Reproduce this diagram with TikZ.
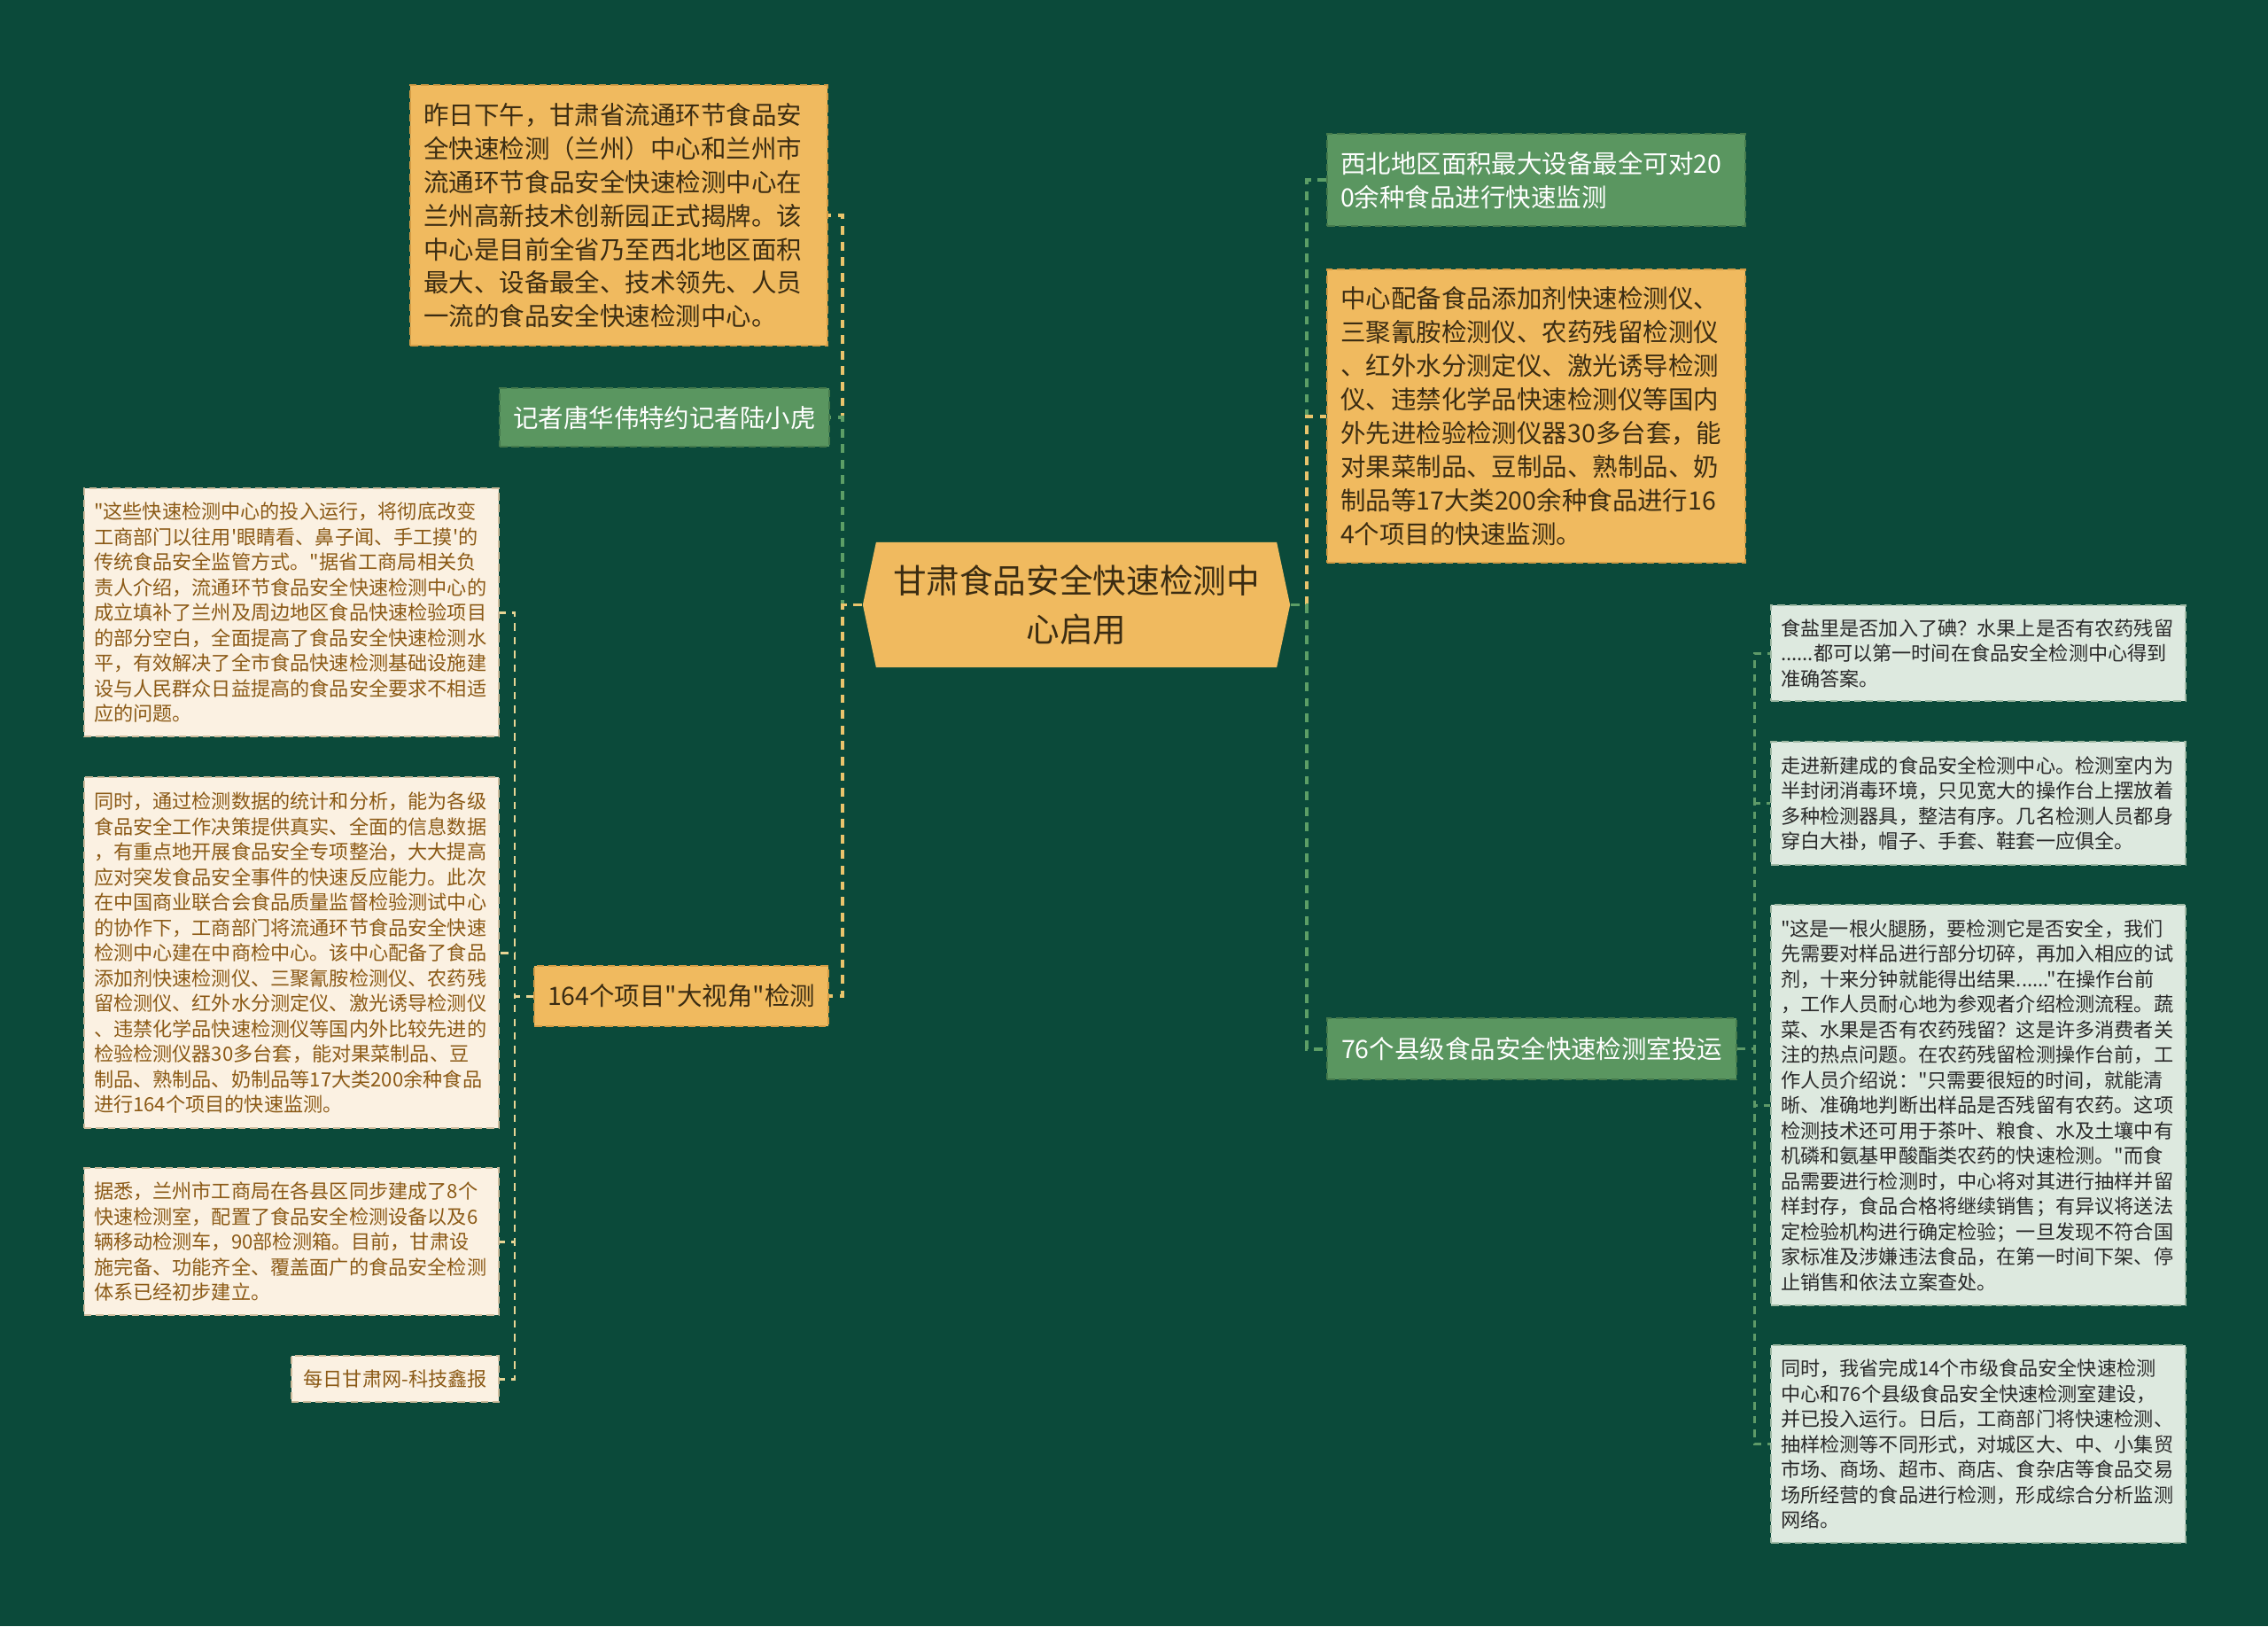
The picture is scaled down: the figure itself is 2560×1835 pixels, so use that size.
\documentclass[tikz,border=0pt]{standalone}
\usepackage{fontspec}
\newfontfamily\cjk{Noto Sans CJK SC}
\usepackage{xcolor}
\usepackage{tikz}
\usetikzlibrary{positioning, shapes.symbols}

\definecolor{bgdark}{HTML}{0B4A3A}
\definecolor{orangefill}{HTML}{F0BA5F}
\definecolor{orangeedge}{HTML}{D49C45}
\definecolor{orangeline}{HTML}{E9C46C}
\definecolor{greenfill}{HTML}{5A9660}
\definecolor{greenedge}{HTML}{457A4C}
\definecolor{greenline}{HTML}{5C9E66}
\definecolor{creamfill}{HTML}{FBF1E2}
\definecolor{creamedge}{HTML}{CDBB9C}
\definecolor{creamtext}{HTML}{8B5A16}
\definecolor{creamline}{HTML}{E8D595}
\definecolor{mintfill}{HTML}{DDE9DF}
\definecolor{mintedge}{HTML}{9FB9A4}
\definecolor{minttext}{HTML}{2A2A2A}
\definecolor{mintline}{HTML}{5E9A68}
\definecolor{darktext}{HTML}{3B2C12}

\begin{document}
\begin{tikzpicture}[
        x=0.01cm, y=-0.01cm,
        every node/.style={inner ysep=0pt},
        box/.style={rectangle, anchor=north west, line width=0.6pt, dash pattern=on 2.4pt off 1.4pt},
        midfont/.style={font=\cjk\fontsize{8.1pt}{10.8pt}\selectfont, inner xsep=0.15cm},
        smallfont/.style={font=\cjk\fontsize{6.3pt}{8.1pt}\selectfont, inner xsep=0.11cm},
        orangebox/.style={box, midfont, fill=orangefill, draw=orangeedge, text=darktext},
        greenbox/.style={box, midfont, fill=greenfill, draw=greenedge, text=white},
        creambox/.style={box, smallfont, fill=creamfill, draw=creamedge, text=creamtext},
        mintbox/.style={box, smallfont, fill=mintfill, draw=mintedge, text=minttext},
        longtext/.style={align=left, text width=#1},
        centrebox/.style={signal, signal to=west and east, signal pointer angle=156, fill=orangefill,
            text=darktext, font=\cjk\fontsize{10.7pt}{15.6pt}\selectfont, align=center,
            minimum width=4.82cm, minimum height=1.41cm},
        conn/.style={line width=1.1pt, dash pattern=on 2.8pt off 2.2pt},
        subconn/.style={line width=0.8pt, dash pattern=on 2.4pt off 2pt}
    ]
        \useasboundingbox (0,0) rectangle (2560,1835);
        \fill[bgdark] (0,0) rectangle (2560,1835);

        \node[centrebox] (centre) at (1215,682.5) {甘肃食品安全快速检测中\\心启用};

        % left branch
        \node[orangebox, longtext=4.41cm, minimum height=2.94cm] (opening) at (462,95) {昨日下午，甘肃省流通环节食品安\\
全快速检测（兰州）中心和兰州市\\
流通环节食品安全快速检测中心在\\
兰州高新技术创新园正式揭牌。该\\
中心是目前全省乃至西北地区面积\\
最大、设备最全、技术领先、人员\\
一流的食品安全快速检测中心。};
        \node[greenbox, align=center, minimum width=3.70cm, minimum height=0.66cm] (reporters) at (563,437) {记者唐华伟特约记者陆小虎};
        \node[orangebox, align=center, minimum width=3.31cm, minimum height=0.68cm] (wideview) at (602,1089) {164个项目"大视角"检测};

        \node[creambox, longtext=4.46cm, minimum height=2.80cm] (quote) at (94,550) {"这些快速检测中心的投入运行，将彻底改变\\
工商部门以往用'眼睛看、鼻子闻、手工摸'的\\
传统食品安全监管方式。"据省工商局相关负\\
责人介绍，流通环节食品安全快速检测中心的\\
成立填补了兰州及周边地区食品快速检验项目\\
的部分空白，全面提高了食品安全快速检测水\\
平，有效解决了全市食品快速检测基础设施建\\
设与人民群众日益提高的食品安全要求不相适\\
应的问题。};
        \node[creambox, longtext=4.46cm, minimum height=3.96cm] (analysis) at (94,876) {同时，通过检测数据的统计和分析，能为各级\\
食品安全工作决策提供真实、全面的信息数据\\
，有重点地开展食品安全专项整治，大大提高\\
应对突发食品安全事件的快速反应能力。此次\\
在中国商业联合会食品质量监督检验测试中心\\
的协作下，工商部门将流通环节食品安全快速\\
检测中心建在中商检中心。该中心配备了食品\\
添加剂快速检测仪、三聚氰胺检测仪、农药残\\
留检测仪、红外水分测定仪、激光诱导检测仪\\
、违禁化学品快速检测仪等国内外比较先进的\\
检验检测仪器30多台套，能对果菜制品、豆\\
制品、熟制品、奶制品等17大类200余种食品\\
进行164个项目的快速监测。};
        \node[creambox, longtext=4.46cm, minimum height=1.66cm] (counties) at (94,1317) {据悉，兰州市工商局在各县区同步建成了8个\\
快速检测室，配置了食品安全检测设备以及6\\
辆移动检测车，90部检测箱。目前，甘肃设\\
施完备、功能齐全、覆盖面广的食品安全检测\\
体系已经初步建立。};
        \node[creambox, align=center, minimum width=2.34cm, minimum height=0.52cm] (source) at (328,1529) {每日甘肃网-科技鑫报};

        % right branch
        \node[greenbox, longtext=4.42cm, minimum height=1.04cm] (largest) at (1497,150) {西北地区面积最大设备最全可对20\\
0余种食品进行快速监测};
        \node[orangebox, longtext=4.42cm, minimum height=3.31cm] (devices) at (1497,303) {中心配备食品添加剂快速检测仪、\\
三聚氰胺检测仪、农药残留检测仪\\
、红外水分测定仪、激光诱导检测\\
仪、违禁化学品快速检测仪等国内\\
外先进检验检测仪器30多台套，能\\
对果菜制品、豆制品、熟制品、奶\\
制品等17大类200余种食品进行16\\
4个项目的快速监测。};
        \node[greenbox, align=center, minimum width=4.62cm, minimum height=0.69cm] (labs) at (1497,1148) {76个县级食品安全快速检测室投运};

        \node[mintbox, longtext=4.46cm, minimum height=1.08cm] (salt) at (1998,682) {食盐里是否加入了碘？水果上是否有农药残留\\
......都可以第一时间在食品安全检测中心得到\\
准确答案。};
        \node[mintbox, longtext=4.46cm, minimum height=1.39cm] (lab) at (1998,836) {走进新建成的食品安全检测中心。检测室内为\\
半封闭消毒环境，只见宽大的操作台上摆放着\\
多种检测器具，整洁有序。几名检测人员都身\\
穿白大褂，帽子、手套、鞋套一应俱全。};
        \node[mintbox, longtext=4.46cm, minimum height=4.52cm] (sausage) at (1998,1020) {"这是一根火腿肠，要检测它是否安全，我们\\
先需要对样品进行部分切碎，再加入相应的试\\
剂，十来分钟就能得出结果......"在操作台前\\
，工作人员耐心地为参观者介绍检测流程。蔬\\
菜、水果是否有农药残留？这是许多消费者关\\
注的热点问题。在农药残留检测操作台前，工\\
作人员介绍说："只需要很短的时间，就能清\\
晰、准确地判断出样品是否残留有农药。这项\\
检测技术还可用于茶叶、粮食、水及土壤中有\\
机磷和氨基甲酸酯类农药的快速检测。"而食\\
品需要进行检测时，中心将对其进行抽样并留\\
样封存，食品合格将继续销售；有异议将送法\\
定检验机构进行确定检验；一旦发现不符合国\\
家标准及涉嫌违法食品，在第一时间下架、停\\
止销售和依法立案查处。};
        \node[mintbox, longtext=4.46cm, minimum height=2.23cm] (network) at (1998,1517) {同时，我省完成14个市级食品安全快速检测\\
中心和76个县级食品安全快速检测室建设，\\
并已投入运行。日后，工商部门将快速检测、\\
抽样检测等不同形式，对城区大、中、小集贸\\
市场、商场、超市、商店、食杂店等食品交易\\
场所经营的食品进行检测，形成综合分析监测\\
网络。};

        % connectors
        \draw[conn, orangeline] (centre.west) -- ++(-22,0) |- (opening.east);
        \draw[conn, greenline] (centre.west) -- ++(-22,0) |- (reporters.east);
        \draw[conn, orangeline] (centre.west) -- ++(-22,0) |- (wideview.east);
        \draw[conn, greenline] (centre.east) -- ++(18,0) |- (largest.west);
        \draw[conn, orangeline] (centre.east) -- ++(18,0) |- (devices.west);
        \draw[conn, greenline] (centre.east) -- ++(18,0) |- (labs.west);

        \foreach \leaf in {quote, analysis, counties, source}
            \draw[subconn, creamline] (wideview.west) -- ++(-21,0) |- (\leaf.east);
        \foreach \leaf in {salt, lab, sausage, network}
            \draw[subconn, mintline] (labs.east) -- ++(19,0) |- (\leaf.west);
\end{tikzpicture}
\end{document}
